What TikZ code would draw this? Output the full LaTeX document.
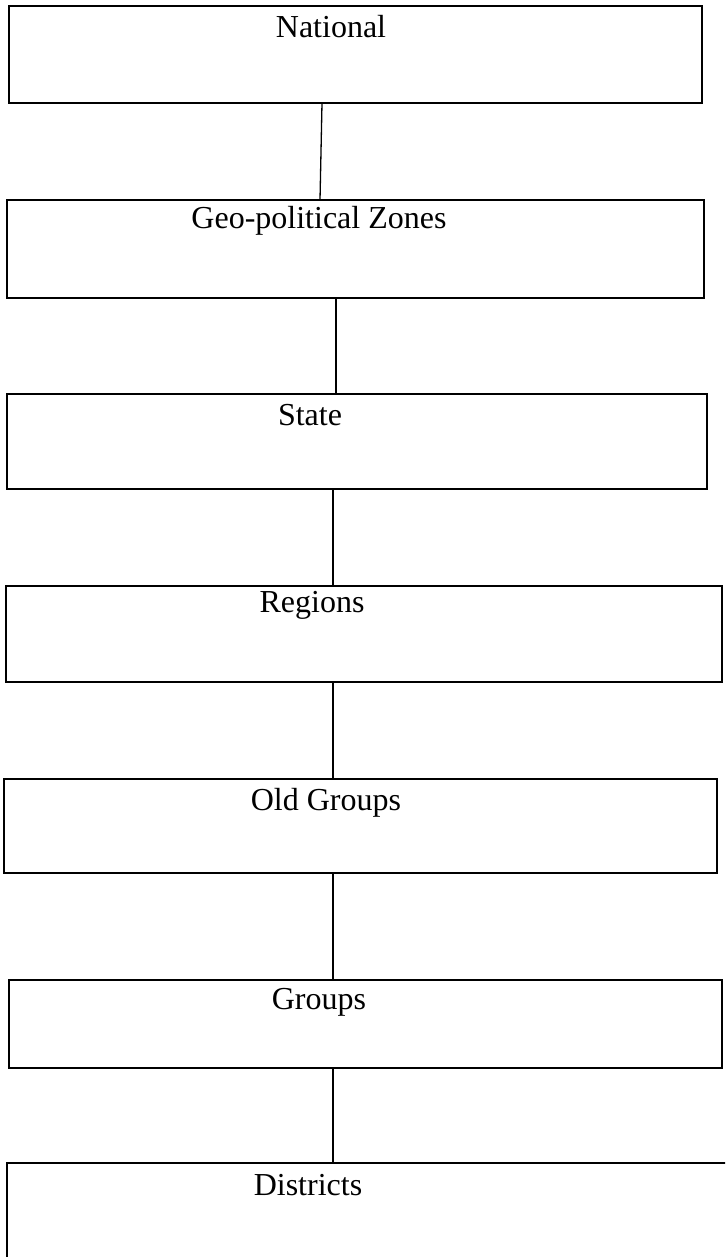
\documentclass[tikz,border=0pt]{standalone}
\usepackage{fontspec}
\setmainfont{Liberation Serif}
\begin{document}
\begin{tikzpicture}[x=1pt,y=-1pt,
  box/.style={draw=black, line width=1.8pt, inner sep=0pt, outer sep=0pt, anchor=north west},
  lbl/.style={font=\fontsize{32}{38}\selectfont, inner sep=0pt, anchor=base},
  link/.style={draw=black, line width=1.3pt}]
\useasboundingbox (0,0) rectangle (725,1257);
\clip (0,0) rectangle (725,1257);
% boxes
\node[box, minimum width=693pt, minimum height=97pt] (n1) at (9,6) {};
\node[box, minimum width=697pt, minimum height=98pt] (n2) at (7,200) {};
\node[box, minimum width=700pt, minimum height=95pt] (n3) at (7,394) {};
\node[box, minimum width=716pt, minimum height=96pt] (n4) at (6,586) {};
\node[box, minimum width=713pt, minimum height=94pt] (n5) at (4,779) {};
\node[box, minimum width=713pt, minimum height=88pt] (n6) at (9,980) {};
\node[box, minimum width=733pt, minimum height=120pt] (n7) at (7,1163) {};
% labels
\node[lbl] (t1) at (331,38) {National};
\node[lbl] (t2) at (319,229) {Geo-political Zones};
\node[lbl] (t3) at (310,425) {State};
\node[lbl] (t4) at (312,612) {Regions};
\node[lbl] (t5) at (326,810) {Old Groups};
\node[lbl] (t6) at (319,1009) {Groups};
\node[lbl] (t7) at (308,1195) {Districts};
% connectors
\draw[link] ([xshift=-33.5pt]n1.south) -- ([xshift=-35.5pt]n2.north);
\draw[link] ([xshift=-19.5pt]n2.south) -- ([xshift=-21pt]n3.north);
\draw[link] ([xshift=-24pt]n3.south) -- ([xshift=-31pt]n4.north);
\draw[link] ([xshift=-31pt]n4.south) -- ([xshift=-27.5pt]n5.north);
\draw[link] ([xshift=-27.5pt]n5.south) -- ([xshift=-32.5pt]n6.north);
\draw[link] ([xshift=-32.5pt]n6.south) -- ([xshift=-40.5pt]n7.north);
\end{tikzpicture}
\end{document}
